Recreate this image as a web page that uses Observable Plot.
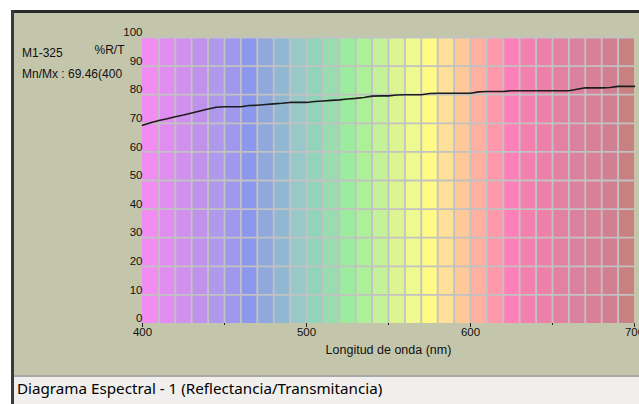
<!DOCTYPE html>
<html>
<head>
<meta charset="utf-8">
<script src="https://cdn.jsdelivr.net/npm/d3@7"></script>
<script src="https://cdn.jsdelivr.net/npm/@observablehq/plot@0.6"></script>
<style>
  html, body { margin: 0; padding: 0; background: #ffffff; }
  body { width: 639px; height: 404px; position: relative; overflow: hidden; font-family: "Liberation Sans", Arial, sans-serif; }
  #panel { position: absolute; left: 11px; top: 10px; width: 628px; height: 366px; background: #c4c6ab; border-top: 3px solid #2a2a2a; border-left: 3px solid #3a3a3a; box-sizing: border-box; }
  #leftline { position: absolute; left: 11px; top: 10px; width: 3px; height: 394px; background: #3a3a3a; }
  #status { position: absolute; left: 14px; top: 375px; width: 625px; height: 29px; background: #f0efed; border-top: 2px solid #a8a8a8; box-sizing: border-box; }
  #statustext { position: absolute; left: 17px; top: 378px; font-family: "Noto Sans", "Open Sans", sans-serif; font-size: 15.2px; color: #000; white-space: nowrap; }
  #chart { position: absolute; left: 0; top: 0; }
  .info { position: absolute; left: 22px; font-size: 12px; color: #111; white-space: nowrap; overflow: hidden; }
</style>
</head>
<body>
<div id="panel"></div>
<div id="leftline"></div>
<div id="status"></div>
<div id="statustext"></div>
<div class="info" id="sample" style="top:46px;"></div>
<div class="info" id="minmax" style="top:67px; width:101px;"></div>
<div id="chart"></div>
<script>
// ---- data ----
const sampleName = "M1-325";
const minMaxText = "Mn/Mx : 69.46(400";
const statusTitle = "Diagrama Espectral - 1 (Reflectancia/Transmitancia)";
const yAxisTitle = "%R/T";
const xAxisTitle = "Longitud de onda (nm)";

const wavelengths = [400,405,410,415,420,425,430,435,440,445,450,455,460,465,470,475,480,485,490,495,500,505,510,515,520,525,530,535,540,545,550,555,560,565,570,575,580,585,590,595,600,605,610,615,620,625,630,635,640,645,650,655,660,665,670,675,680,685,690,695,700];
const reflectance = [69.3,70.2,71.0,71.6,72.3,72.9,73.6,74.3,75.0,75.6,75.8,75.8,75.8,76.2,76.3,76.6,76.8,77.0,77.3,77.3,77.3,77.6,77.8,78.0,78.2,78.5,78.7,79.0,79.5,79.6,79.6,79.9,80.0,80.0,80.0,80.4,80.5,80.5,80.5,80.5,80.5,81.0,81.1,81.1,81.1,81.4,81.4,81.4,81.4,81.4,81.4,81.4,81.4,81.9,82.4,82.4,82.4,82.5,82.9,82.9,82.9];

const stripeStarts = [400,410,420,430,440,450,460,470,480,490,500,510,520,530,540,550,560,570,580,590,600,610,620,630,640,650,660,670,680,690];
const stripeColors = ["#f08cf2","#e08cf0","#d090ee","#c092ec","#b098ec","#a098ec","#8c98ec","#90a8dc","#90b8d2","#98c8c8","#92d4ba","#98dcb0","#9ceca0","#aef098","#c4f298","#dcf590","#eefa90","#fffa88","#ffe098","#ffc898","#ffb0a0","#ff98aa","#ff80b8","#f480b0","#ec80a8","#e480a2","#dc80a0","#d88098","#d08090","#c88080"];

const gridX = [410,420,430,440,450,460,470,480,490,500,510,520,530,540,550,560,570,580,590,600,610,620,630,640,650,660,670,680,690];
const gridY = [10,20,30,40,50,60,70,80,90,100];
const yTicks = [0,10,20,30,40,50,60,70,80,90,100];
const xMajorTicks = [400,500,600,700];
const xMinorTicks = [450,550,650];

// ---- build ----
document.getElementById("statustext").textContent = statusTitle;
document.getElementById("sample").textContent = sampleName;
document.getElementById("minmax").textContent = minMaxText;

const curve = wavelengths.map((w, i) => ({w, r: reflectance[i]}));
const stripes = stripeStarts.map((s, i) => ({s, e: s + 10, c: stripeColors[i]}));

const chart = Plot.plot({
  width: 639,
  height: 376,
  marginLeft: 142,
  marginRight: 5,
  marginTop: 37,
  marginBottom: 53,
  x: {domain: [400, 700]},
  y: {domain: [0, 100]},
  style: {background: "transparent", fontFamily: "'Liberation Sans', Arial, sans-serif", fontSize: "11.5px", color: "#111", overflow: "visible"},
  marks: [
    Plot.rect(stripes, {x1: "s", x2: "e", y1: 0, y2: 100, fill: "c"}),
    Plot.ruleX(gridX, {stroke: "#c2c2c2", strokeWidth: 1.8}),
    Plot.ruleY(gridY, {stroke: "#c2c2c2", strokeWidth: 1.8}),
    Plot.line(curve, {x: "w", y: "r", stroke: "#1c1c1c", strokeWidth: 1.6}),
    Plot.axisY(yTicks, {anchor: "left", tickSize: 0, tickPadding: 0, dy: -5, label: null, fill: "#111"}),
    Plot.axisX(xMajorTicks, {anchor: "bottom", tickSize: 4, tickPadding: 0, label: null, stroke: "#222", fill: "#111", tickFormat: d => String(d)}),
    Plot.axisX(xMinorTicks, {anchor: "bottom", tickSize: 2, label: null, stroke: "#222", tickFormat: () => ""}),
    Plot.text([xAxisTitle], {frameAnchor: "bottom", dy: 30, text: d => d, fill: "#111", fontSize: 12.5}),
    Plot.text([yAxisTitle], {frameAnchor: "top-left", dx: -18, dy: 8, textAnchor: "end", text: d => d, fill: "#111", fontSize: 12})
  ]
});
document.getElementById("chart").appendChild(chart);
</script>
</body>
</html>
